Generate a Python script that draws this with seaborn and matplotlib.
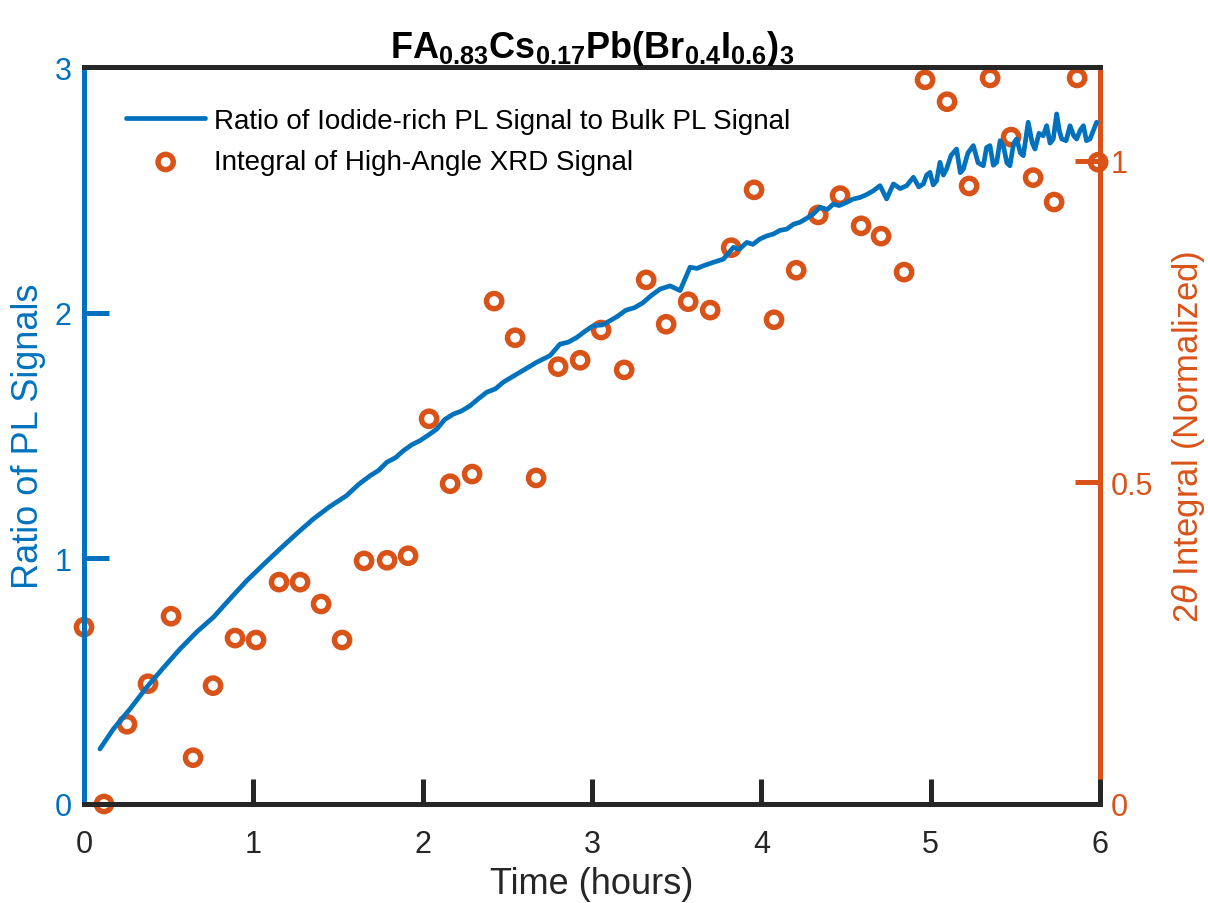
import matplotlib
matplotlib.use("Agg")
import matplotlib.pyplot as plt
import seaborn as sns
import numpy as np
import pandas as pd

# ---- data ----
pl_time = [0.094, 0.173, 0.272, 0.370, 0.467, 0.567, 0.665, 0.764, 0.862, 0.961,
           1.060, 1.157, 1.255, 1.354, 1.450, 1.550, 1.620, 1.689, 1.740, 1.788,
           1.840, 1.886, 1.935, 1.984, 2.030, 2.083, 2.130, 2.181, 2.230, 2.280,
           2.330, 2.378, 2.430, 2.476, 2.520, 2.575, 2.620, 2.673, 2.752, 2.811,
           2.860, 2.910, 2.960, 3.008, 3.060, 3.106, 3.150, 3.200, 3.250, 3.300,
           3.350, 3.402, 3.461, 3.520, 3.579, 3.620, 3.658, 3.717, 3.776, 3.835,
           3.870, 3.914, 3.950, 3.992, 4.030, 4.071, 4.110, 4.150, 4.190, 4.228,
           4.270, 4.307, 4.347, 4.390, 4.425, 4.460, 4.504, 4.540, 4.583, 4.620,
           4.661, 4.701, 4.740, 4.780, 4.820, 4.858, 4.898, 4.930, 4.957, 4.976,
           4.996, 5.015, 5.035, 5.055, 5.075, 5.094, 5.120, 5.153, 5.175, 5.193,
           5.220, 5.252, 5.280, 5.311, 5.330, 5.350, 5.370, 5.390, 5.410, 5.429,
           5.450, 5.468, 5.490, 5.508, 5.530, 5.547, 5.576, 5.600, 5.616, 5.640,
           5.665, 5.685, 5.705, 5.724, 5.744, 5.760, 5.774, 5.800, 5.823, 5.845,
           5.862, 5.885, 5.902, 5.920, 5.941, 5.960, 5.980]
pl_ratio = [0.224, 0.305, 0.387, 0.475, 0.553, 0.631, 0.700, 0.760, 0.835, 0.909,
            0.975, 1.038, 1.100, 1.160, 1.210, 1.255, 1.300, 1.336, 1.358, 1.391,
            1.410, 1.438, 1.462, 1.479, 1.500, 1.526, 1.565, 1.587, 1.600, 1.621,
            1.650, 1.676, 1.690, 1.717, 1.735, 1.757, 1.776, 1.798, 1.825, 1.872,
            1.880, 1.899, 1.925, 1.947, 1.950, 1.967, 1.985, 2.010, 2.020, 2.040,
            2.070, 2.096, 2.109, 2.090, 2.185, 2.180, 2.191, 2.205, 2.218, 2.266,
            2.258, 2.286, 2.278, 2.300, 2.312, 2.320, 2.335, 2.340, 2.360, 2.368,
            2.385, 2.402, 2.429, 2.420, 2.442, 2.436, 2.449, 2.462, 2.469, 2.480,
            2.496, 2.517, 2.463, 2.524, 2.505, 2.517, 2.551, 2.512, 2.524, 2.560,
            2.571, 2.520, 2.537, 2.612, 2.560, 2.585, 2.640, 2.666, 2.570, 2.585,
            2.650, 2.680, 2.610, 2.598, 2.672, 2.680, 2.600, 2.612, 2.700, 2.680,
            2.610, 2.598, 2.690, 2.707, 2.650, 2.639, 2.775, 2.690, 2.666, 2.730,
            2.720, 2.761, 2.690, 2.707, 2.809, 2.740, 2.707, 2.700, 2.761, 2.720,
            2.707, 2.745, 2.761, 2.700, 2.707, 2.740, 2.775]

xrd_time = [0.000, 0.118, 0.254, 0.378, 0.514, 0.644, 0.762, 0.892, 1.016, 1.152,
            1.276, 1.400, 1.524, 1.654, 1.790, 1.914, 2.038, 2.162, 2.292, 2.422,
            2.546, 2.670, 2.800, 2.930, 3.054, 3.190, 3.320, 3.438, 3.568, 3.698,
            3.822, 3.957, 4.075, 4.206, 4.336, 4.465, 4.589, 4.707, 4.843, 4.967,
            5.097, 5.227, 5.351, 5.475, 5.605, 5.729, 5.865, 5.989]
xrd_integral = [0.275, 0.000, 0.124, 0.187, 0.292, 0.072, 0.184, 0.258, 0.255, 0.345,
                0.345, 0.311, 0.255, 0.378, 0.379, 0.386, 0.599, 0.498, 0.513, 0.782,
                0.725, 0.507, 0.680, 0.690, 0.737, 0.675, 0.815, 0.746, 0.781, 0.768,
                0.865, 0.955, 0.753, 0.830, 0.916, 0.946, 0.899, 0.883, 0.827, 1.126,
                1.092, 0.961, 1.129, 1.037, 0.974, 0.936, 1.129, 0.998]

x_ticks = [0, 1, 2, 3, 4, 5, 6]
left_ticks = [0, 1, 2, 3]
right_ticks = [0, 0.5, 1]
right_tick_labels = ['0', '0.5', '1']

title_text = r'$\mathbf{FA_{0.83}Cs_{0.17}Pb(Br_{0.4}I_{0.6})_3}$'
xlabel_text = 'Time (hours)'
ylabel_left = 'Ratio of PL Signals'
ylabel_right = r'2$\theta$ Integral (Normalized)'
legend_line = 'Ratio of Iodide-rich PL Signal to Bulk PL Signal'
legend_xrd = 'Integral of High-Angle XRD Signal'

# ---- style ----
sns.set_theme(style="white")
plt.rcParams['font.family'] = ['Liberation Sans', 'DejaVu Sans']
plt.rcParams['mathtext.fontset'] = 'custom'
plt.rcParams['mathtext.rm'] = 'Liberation Sans'
plt.rcParams['mathtext.it'] = 'Liberation Sans:italic'
plt.rcParams['mathtext.bf'] = 'Liberation Sans:bold'

BLUE = '#0072BD'
ORANGE = '#D95319'
DARK = '#262626'

pl_df = pd.DataFrame({'t': pl_time, 'r': pl_ratio})
xrd_df = pd.DataFrame({'t': xrd_time, 'v': xrd_integral})

fig = plt.figure(figsize=(12.08, 9.04), dpi=100)
ax = fig.add_axes([84/1208, 1-805/904, (1100-84)/1208, (805-68)/904])
ax2 = ax.twinx()

sns.scatterplot(data=xrd_df, x='t', y='v', ax=ax2, marker='o', s=11**2,
                facecolors='none', edgecolor=ORANGE, linewidth=3.9,
                clip_on=False, zorder=1, label=legend_xrd, legend=False)
sns.lineplot(data=pl_df, x='t', y='r', ax=ax, color=BLUE, lw=3.4,
             label=legend_line, legend=False, zorder=3)

ax.set_zorder(ax2.get_zorder() + 1)
ax.patch.set_visible(False)

ax.set_xlim(0, 6)
ax.set_ylim(0, 3)
ax2.set_ylim(0, 1.146)
ax.set_xticks(x_ticks)
ax.set_yticks(left_ticks)
ax2.set_yticks(right_ticks)
ax2.set_yticklabels(right_tick_labels)

for a in (ax, ax2):
    for s in a.spines.values():
        s.set_linewidth(3.6)
        s.set_color(DARK)
ax.spines['left'].set_color(BLUE)
ax.spines['right'].set_visible(False)
ax2.spines['left'].set_visible(False)
ax2.spines['right'].set_color(ORANGE)

ax.tick_params(axis='x', direction='in', length=18, width=3.6, color=DARK,
               labelcolor=DARK, labelsize=22, pad=18, bottom=True, top=False)
ax.tick_params(axis='y', direction='in', length=18, width=3.6, color=BLUE,
               labelcolor=BLUE, labelsize=22, pad=9, left=True, right=False)
ax2.tick_params(axis='y', direction='in', length=18, width=3.6, color=ORANGE,
                labelcolor=ORANGE, labelsize=22, pad=8, right=True, left=False)

ax.set_xlabel(xlabel_text, fontsize=26, color=DARK, labelpad=5)
ax.set_ylabel(ylabel_left, fontsize=26, color=BLUE, labelpad=6)
ax2.set_ylabel(ylabel_right, fontsize=25, color=ORANGE, labelpad=12)
ax.set_title(title_text, fontsize=26, color='black', pad=6)

h1, l1 = ax.get_legend_handles_labels()
h2, l2 = ax2.get_legend_handles_labels()
leg = ax.legend(h1 + h2, l1 + l2, loc='upper left', bbox_to_anchor=(0.025, 0.967),
                frameon=False, fontsize=20, handlelength=2.85, handletextpad=0.3,
                labelspacing=0.55, borderaxespad=0.2)
for t in leg.get_texts():
    t.set_color('black')

fig.savefig('out.png', dpi=100)
